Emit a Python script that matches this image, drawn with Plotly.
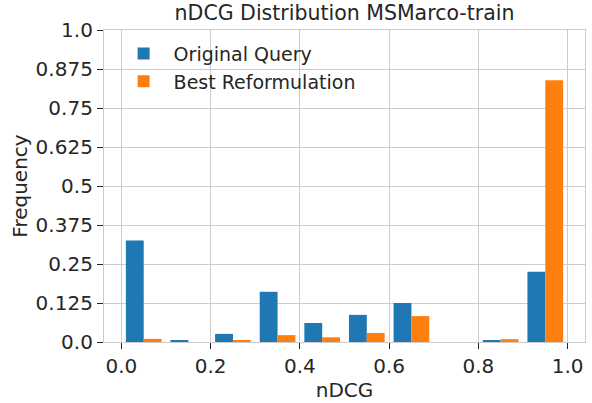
import plotly.graph_objects as go

bin_left = [0.0, 0.1, 0.2, 0.3, 0.4, 0.5, 0.6, 0.7, 0.8, 0.9]
original_query = [0.325, 0.005, 0.026, 0.161, 0.061, 0.087, 0.125, 0.0, 0.005, 0.225]
best_reformulation = [0.010, 0.0, 0.004, 0.022, 0.015, 0.029, 0.083, 0.0, 0.009, 0.839]
x_tick_vals = [0.0, 0.2, 0.4, 0.6, 0.8, 1.0]
x_tick_text = ["0.0", "0.2", "0.4", "0.6", "0.8", "1.0"]
y_tick_vals = [0.0, 0.125, 0.25, 0.375, 0.5, 0.625, 0.75, 0.875, 1.0]
y_tick_text = ["0.0", "0.125", "0.25", "0.375", "0.5", "0.625", "0.75", "0.875", "1.0"]

font = "DejaVu Sans"
dark = "#262626"
grid = "#cccccc"

fig = go.Figure()
fig.add_trace(go.Bar(
    x=bin_left, y=original_query, name="Original Query",
    width=0.04, offset=0.01, marker=dict(color="#1f77b4", line=dict(width=0)),
))
fig.add_trace(go.Bar(
    x=bin_left, y=best_reformulation, name="Best Reformulation",
    width=0.04, offset=0.05, marker=dict(color="#ff7f0e", line=dict(width=0)),
))

fig.update_layout(
    width=592, height=403,
    barmode="overlay",
    paper_bgcolor="white", plot_bgcolor="white",
    margin=dict(l=104, r=7, t=30, b=61, autoexpand=False),
    font=dict(family=font, color=dark, size=18),
    title=dict(text="nDCG Distribution MSMarco-train", x=0.582, xanchor="center",
               y=0.967, yanchor="middle", font=dict(size=20.5, color=dark, family=font)),
    legend=dict(x=0.02, y=0.985, xanchor="left", yanchor="top",
                bgcolor="rgba(0,0,0,0)", font=dict(size=19, color=dark, family=font),
                tracegroupgap=0, itemwidth=50),
    showlegend=True,
)
fig.update_xaxes(
    range=[-0.039, 1.039], tickvals=x_tick_vals, ticktext=x_tick_text,
    showgrid=True, gridcolor=grid, gridwidth=1.2,
    showline=True, linecolor=grid, linewidth=1.25, mirror=True,
    ticks="outside", ticklen=6, tickwidth=1.25, tickcolor=dark,
    tickfont=dict(size=20, family=font, color=dark), automargin=False,
    title=dict(text="nDCG", font=dict(size=20, family=font, color=dark), standoff=0),
    zeroline=False,
)
fig.update_yaxes(
    range=[0, 1.0], tickvals=y_tick_vals, ticktext=y_tick_text,
    showgrid=True, gridcolor=grid, gridwidth=1.2,
    showline=True, linecolor=grid, linewidth=1.25, mirror=True,
    ticks="outside", ticklen=6, tickwidth=1.25, tickcolor=dark,
    tickfont=dict(size=20, family=font, color=dark), automargin=False,
    title=dict(text="Frequency", font=dict(size=20, family=font, color=dark), standoff=2),
    zeroline=False,
)

fig.write_html("out.html", config={"displayModeBar": False},
               post_script="document.body.style.margin='0';")
